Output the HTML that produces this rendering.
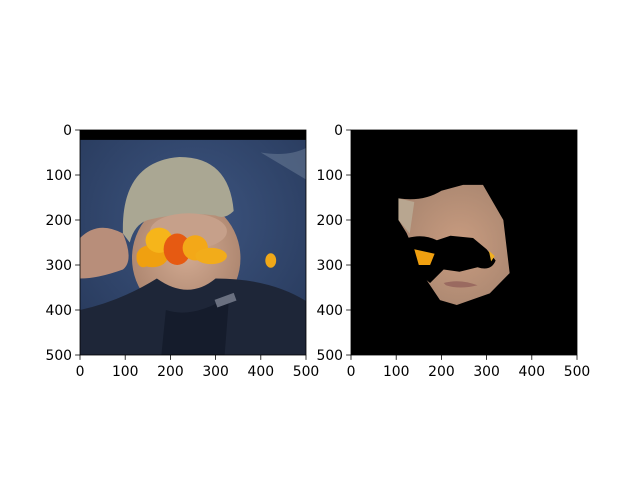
<!DOCTYPE html>
<html><head><meta charset="utf-8"><style>
body{margin:0;background:#fff;width:640px;height:480px;overflow:hidden}
svg{font-family:"DejaVu Sans","Liberation Sans",sans-serif}
</style></head><body>
<svg id="fig" width="640" height="480" viewBox="0 0 640 480">
<defs>
<radialGradient id="bg" cx="0.5" cy="0.4" r="0.7"><stop offset="0" stop-color="#3d5580"/><stop offset="1" stop-color="#283a5c"/></radialGradient>
<radialGradient id="skin" cx="0.5" cy="0.45" r="0.6"><stop offset="0" stop-color="#d3ab92"/><stop offset="1" stop-color="#a9826c"/></radialGradient>
<radialGradient id="skin2" cx="0.55" cy="0.5" r="0.6"><stop offset="0" stop-color="#c99c80"/><stop offset="1" stop-color="#a98670"/></radialGradient>
</defs>

<svg x="80" y="130" width="226" height="225" viewBox="0 0 500 500" preserveAspectRatio="none">
<rect width="500" height="500" fill="url(#bg)"/>
<rect width="500" height="22" fill="#000"/>
<path d="M400 50 Q460 60 500 40 L500 110 Q450 80 400 50Z" fill="#8090a8" opacity="0.4"/>
<ellipse cx="235" cy="285" rx="120" ry="130" fill="url(#skin)"/>
<path d="M95 230 Q90 70 220 60 Q330 60 340 180 Q320 200 300 190 Q230 180 150 200 Q120 210 110 250Z" fill="#aaa793"/>
<ellipse cx="240" cy="225" rx="85" ry="40" fill="#c6a08a"/>
<path d="M0 240 Q40 200 95 230 Q120 290 95 310 Q40 330 0 330Z" fill="#b88e7a"/>
<path d="M0 400 Q90 380 170 330 Q240 380 300 330 Q420 330 500 380 L500 500 L0 500Z" fill="#1e2638"/>
<path d="M190 400 Q250 420 330 370 L320 500 L180 500Z" fill="#151c2c"/>
<rect x="300" y="370" width="45" height="18" fill="#6a7080" transform="rotate(-20 320 380)"/>
<g>
<ellipse cx="160" cy="280" rx="35" ry="25" fill="#f0a010"/>
<ellipse cx="175" cy="245" rx="30" ry="28" fill="#f6b51a"/>
<ellipse cx="215" cy="265" rx="30" ry="35" fill="#e65a12"/>
<ellipse cx="255" cy="262" rx="28" ry="28" fill="#f3a818"/>
<ellipse cx="290" cy="280" rx="35" ry="18" fill="#f2ac1a"/>
<ellipse cx="140" cy="285" rx="15" ry="20" fill="#f0a010"/>
<ellipse cx="422" cy="290" rx="12" ry="16" fill="#f0a818"/>
</g>
</svg>

<svg x="351" y="130" width="226" height="225" viewBox="0 0 500 500" preserveAspectRatio="none">
<rect width="500" height="500" fill="#000"/>
<path d="M105 152 Q160 160 200 135 L248 122 L292 122 L337 200 L351 318 L307 363 L234 389 L197 378 L167 333 L123 229 L105 200Z" fill="url(#skin2)"/>
<path d="M105 152 L140 160 L130 230 L105 200Z" fill="#b8a690"/>
<path d="M125 240 Q160 230 190 245 L220 235 L270 240 L300 265 L320 290 Q310 315 280 305 L240 315 L205 310 L175 340 L150 320 L130 290Z" fill="#000"/>
<path d="M140 265 L185 275 L175 300 L150 300Z" fill="#f0a010"/>
<path d="M305 268 L318 280 L310 292Z" fill="#f0b020"/>
<path d="M205 340 Q240 330 280 345 Q240 355 210 345Z" fill="#9a6a60"/>
</svg>

<g id="axes" fill="none" stroke="#000" stroke-width="0.8">
<rect x="80" y="130" width="226" height="225"/>
<rect x="351" y="130" width="226" height="225"/>
</g>
<g id="ticks"></g>
</svg>
<script>
const tickValues=[0,100,200,300,400,500];
const panels=[{x0:80,y0:130,w:226,h:225,name:'left'},{x0:351,y0:130,w:226,h:225,name:'right'}];
const g=document.getElementById('ticks');
const NS='http://www.w3.org/2000/svg';
panels.forEach(p=>{
  const sx=v=>p.x0+v/500*p.w, sy=v=>p.y0+v/500*p.h;
  tickValues.forEach(v=>{
    let l=document.createElementNS(NS,'line');
    l.setAttribute('x1',sx(v));l.setAttribute('x2',sx(v));l.setAttribute('y1',p.y0+p.h);l.setAttribute('y2',p.y0+p.h+4.9);
    l.setAttribute('stroke','#000');l.setAttribute('stroke-width','0.8');
    
    
    g.appendChild(l);
    let t=document.createElementNS(NS,'text');
    t.setAttribute('x',sx(v));t.setAttribute('y',p.y0+p.h+21);t.setAttribute('text-anchor','middle');t.setAttribute('font-size','13.9');
    t.textContent=v;
    
    
    g.appendChild(t);
    let l2=document.createElementNS(NS,'line');
    l2.setAttribute('x1',p.x0-4.9);l2.setAttribute('x2',p.x0);l2.setAttribute('y1',sy(v));l2.setAttribute('y2',sy(v));
    l2.setAttribute('stroke','#000');l2.setAttribute('stroke-width','0.8');
    
    
    g.appendChild(l2);
    let t2=document.createElementNS(NS,'text');
    t2.setAttribute('x',p.x0-8);t2.setAttribute('y',sy(v)+5);t2.setAttribute('text-anchor','end');t2.setAttribute('font-size','13.9');
    t2.textContent=v;
    
    
    g.appendChild(t2);
  });
});
</script>
</body></html>
